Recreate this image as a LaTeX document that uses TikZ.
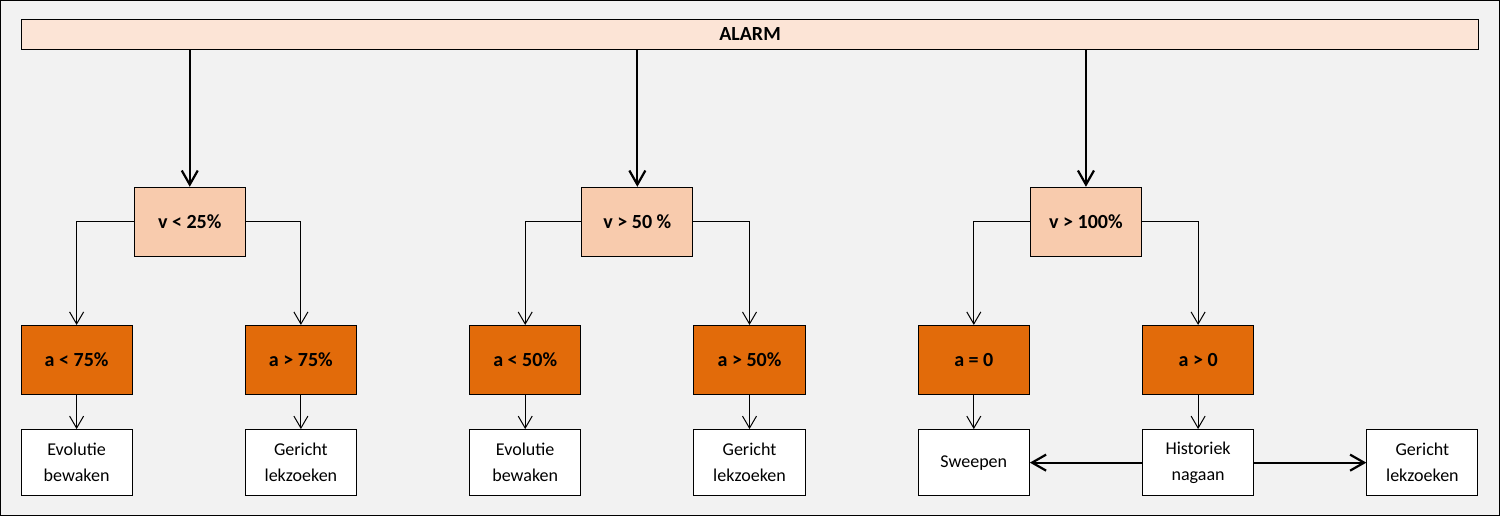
\documentclass[tikz,border=0pt]{standalone}
\usepackage{fontspec}
\setmainfont{Carlito}
\usetikzlibrary{arrows.meta}
\definecolor{bgGray}{RGB}{242,242,242}
\definecolor{alarmFill}{RGB}{252,228,214}
\definecolor{vFill}{RGB}{248,203,173}
\definecolor{aFill}{RGB}{226,107,10}
\tikzset{every picture/.style={line width=1pt}}
\tikzset{
  vbox/.style={draw, fill=vFill, minimum width=111pt, minimum height=69pt, font=\fontsize{20}{24}\selectfont\bfseries},
  abox/.style={draw, fill=aFill, minimum width=111pt, minimum height=69pt, font=\fontsize{20}{24}\selectfont\bfseries},
  leaf/.style={draw, fill=white, minimum width=111pt, minimum height=66pt, align=center, font=\fontsize{18}{26}\selectfont},
  thin arrow/.style={-{Straight Barb[length=12pt,width=14pt]}, line width=1pt},
  thick arrow/.style={-{Straight Barb[length=14pt,width=16pt]}, line width=2.2pt},
}
\begin{document}
\begin{tikzpicture}[x=1pt,y=1pt,yscale=-1]
\draw[fill=bgGray] (1.5,1.5) rectangle (1498.5,515.5);

\node[draw, fill=alarmFill, minimum width=1456pt, minimum height=30pt, font=\fontsize{20}{24}\selectfont\bfseries] (alarm) at (750,35) {ALARM};

% speed level
\node[vbox] (v1) at (190.5,222.5) {v < 25\%};
\node[vbox] (v2) at (637.5,222.5) {v > 50 \%};
\node[vbox] (v3) at (1085.5,222.5) {v > 100\%};

% volume level
\node[abox] (a1) at (77.5,360.5) {a < 75\%};
\node[abox] (a2) at (301.5,360.5) {a > 75\%};
\node[abox] (a3) at (525.5,360.5) {a < 50\%};
\node[abox] (a4) at (749.5,360.5) {a > 50\%};
\node[abox] (a5) at (973.5,360.5) {a = 0};
\node[abox] (a6) at (1197.5,360.5) {a > 0};

% actions
\node[leaf] (l1) at (77.5,463) {Evolutie\\bewaken};
\node[leaf] (l2) at (301.5,463) {Gericht\\lekzoeken};
\node[leaf] (l3) at (525.5,463) {Evolutie\\bewaken};
\node[leaf] (l4) at (749.5,463) {Gericht\\lekzoeken};
\node[leaf] (l5) at (973.5,463) {Sweepen};
\node[leaf] (l6) at (1197.5,463) {Historiek\\nagaan};
\node[leaf] (l7) at (1421.5,463) {Gericht\\lekzoeken};

\foreach \v in {1,2,3}
  \draw[thick arrow] (alarm.south -| v\v) -- (v\v.north);

\draw[thin arrow] (v1.west) -| (a1.north);
\draw[thin arrow] (v1.east) -| (a2.north);
\draw[thin arrow] (v2.west) -| (a3.north);
\draw[thin arrow] (v2.east) -| (a4.north);
\draw[thin arrow] (v3.west) -| (a5.north);
\draw[thin arrow] (v3.east) -| (a6.north);

\foreach \i in {1,...,6}
  \draw[thin arrow] (a\i.south) -- (l\i.north);

\draw[thick arrow] (l6.west) -- (l5.east);
\draw[thick arrow] (l6.east) -- (l7.west);
\end{tikzpicture}
\end{document}
